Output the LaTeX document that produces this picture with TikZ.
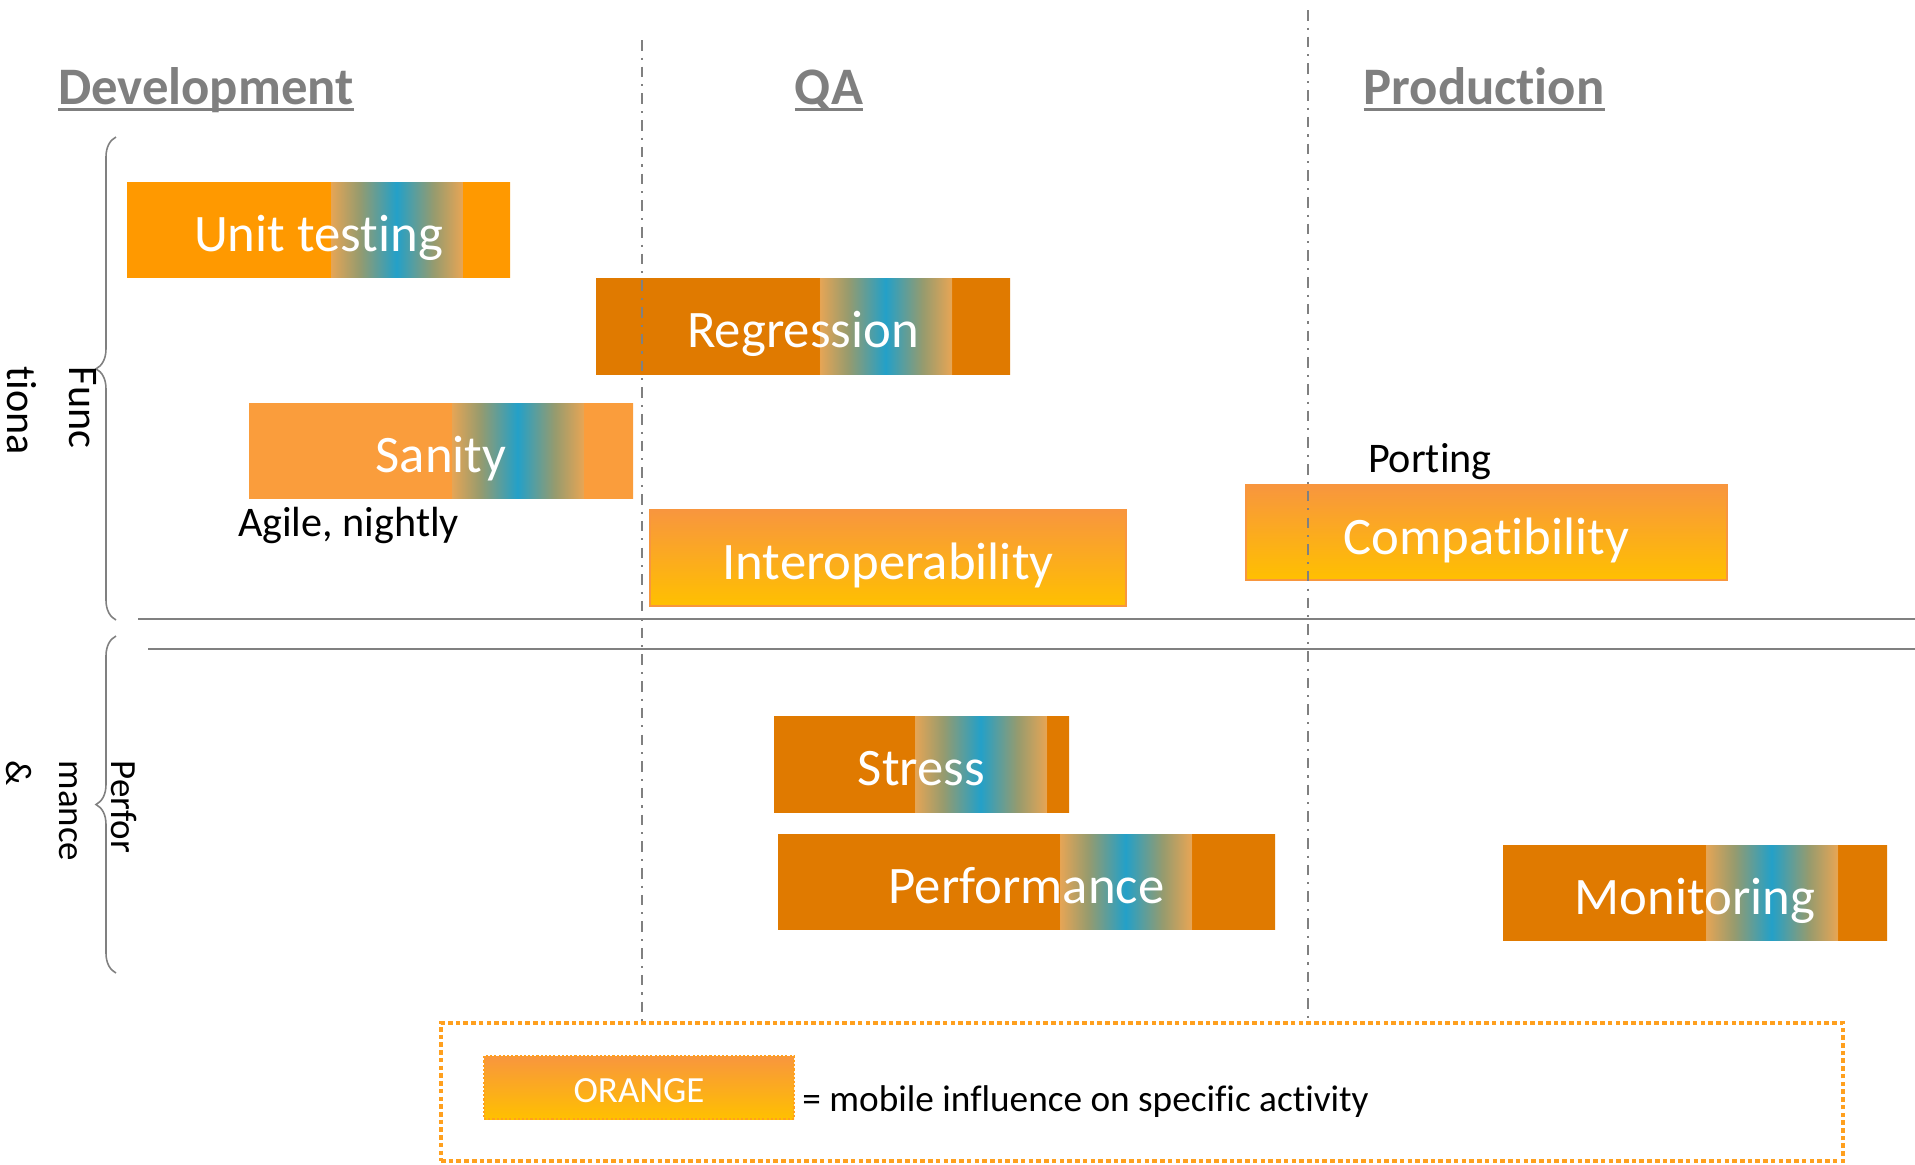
\documentclass[tikz,border=0pt]{standalone}
\usepackage{fontspec}
\setmainfont[Ligatures=NoCommon]{Carlito}
\usetikzlibrary{positioning,decorations.pathreplacing}

\definecolor{devorange}{RGB}{255,153,0}
\definecolor{darkorange}{RGB}{224,122,0}
\definecolor{lightorange}{RGB}{250,157,60}
\definecolor{mobtop}{RGB}{248,150,62}
\definecolor{mobbottom}{RGB}{255,192,0}
\definecolor{bandteal}{RGB}{35,160,200}
\definecolor{bandolive}{RGB}{150,155,110}
\definecolor{bandedge}{RGB}{230,165,85}
\definecolor{linegray}{RGB}{128,128,128}
\definecolor{headgray}{RGB}{127,127,127}
\definecolor{legendorange}{RGB}{255,160,30}

% underlined stage titles
\newcommand{\stagehead}[1]{\setbox0\hbox{#1}\rlap{\rule[-2pt]{\wd0}{0.9pt}}\box0}

% teal band across a box: name, box colour, band start, band end (bp)
\newcommand{\bandshading}[4]{%
  \pgfmathsetmacro\bandA{#3+0.1}%
  \pgfmathsetmacro\bandB{#3+(#4-#3)*0.22}%
  \pgfmathsetmacro\bandC{(#3+#4)/2}%
  \pgfmathsetmacro\bandD{#4-(#4-#3)*0.22}%
  \pgfmathsetmacro\bandE{#4-0.1}%
  \edef\bandtmp{\noexpand\pgfdeclarehorizontalshading{#1}{100bp}{%
    color(0bp)=(#2); color(#3bp)=(#2); color(\bandA bp)=(bandedge);
    color(\bandB bp)=(bandolive); color(\bandC bp)=(bandteal);
    color(\bandD bp)=(bandolive); color(\bandE bp)=(bandedge);
    color(#4bp)=(#2); color(100bp)=(#2)}}%
  \bandtmp}
\bandshading{unitband}{devorange}{51.5}{68.86}
\bandshading{regrband}{darkorange}{51.93}{68.0}
\bandshading{sanityband}{lightorange}{51.3}{68.62}
\bandshading{stressband}{darkorange}{48.73}{71.27}
\bandshading{perfband}{darkorange}{53.27}{66.65}
\bandshading{monitband}{darkorange}{51.3}{68.62}

\tikzset{%
  % Specifications for style of lines:
   stage/.style={
           linegray,
           line width=0.3pt,
           dash pattern=on 3pt off 2pt on 0.6pt off 2pt},
   split/.style={
           linegray,
           line width=0.45pt},
   group/.style={
           linegray,
           line width=0.45pt,
           decorate,
           decoration={brace, amplitude=2mm, aspect=#1}},
  % Specifications for style of nodes:
   base/.style = {rectangle, inner sep=0pt, minimum height=9.5mm,
                  text height=14.5pt, text depth=2pt,
                  text centered, text=white, font=\fontsize{15}{18}\selectfont},
   task/.style = {base, shade, shading=#1},
   mobiletask/.style = {base, draw=mobtop, line width=0.4pt,
                  top color=mobtop, bottom color=mobbottom},
   heading/.style = {font=\fontsize{15}{18}\selectfont\bfseries, text=headgray, anchor=base},
   note/.style = {font=\fontsize{12}{14}\selectfont, inner sep=0pt},
   side/.style = {rotate=-90, align=left, anchor=north west, inner sep=0pt},
   legendframe/.style = {rectangle, draw=legendorange, line width=1pt,
                  dash pattern=on 1.3pt off 0.9pt},
}

\begin{document}
\begin{tikzpicture}[x=0.1mm, y=-0.1mm, node distance=1mm]

  \useasboundingbox (0,0) rectangle (1915,1164);

  % Stage titles
  \node (dev_head)  [heading] at (206,104)  {\stagehead{Development}};
  \node (qa_head)   [heading] at (829,104)  {\stagehead{QA}};
  \node (prod_head) [heading] at (1484,104) {\stagehead{Production}};

  % Functional tasks
  \node (unit_block)   [task=unitband, minimum width=38.3mm] at (318.5,229.5) {Unit testing};
  \node (regr_block)   [task=regrband, minimum width=41.4mm, minimum height=9.6mm] at (803,326) {Regression};
  \node (sanity_block) [task=sanityband, minimum width=38.4mm] at (441,450.5) {Sanity};
  \node (interop_block) [mobiletask, minimum width=47.6mm, minimum height=9.6mm] at (888,558) {Interoperability};
  \node (compat_block)  [mobiletask, minimum width=48.1mm] at (1486.5,532.5) {Compatibility};

  \node (agile_label) [note, below right=0.8mm and -1.1mm of sanity_block.south west] {Agile, nightly};
  \node (port_label)  [note, above right=0.4mm and 12.2mm of compat_block.north west] {Porting};

  % Performance tasks
  \node (stress_block)  [task=stressband, minimum width=29.5mm, minimum height=9.6mm] at (921.5,764) {Stress};
  \node (perf_block)    [task=perfband, minimum width=49.7mm] at (1026.5,881.5) {Performance};
  \node (monit_block)   [task=monitband, minimum width=38.4mm] at (1695,892.5) {Monitoring};

  % Stage borders and split
  \coordinate (qa_top)    at (642,40);
  \coordinate (qa_bot)    at (642,1023);
  \coordinate (prod_top)  at (1308,10);
  \coordinate (prod_bot)  at (1308,1023);
  \coordinate (upper_l)   at (138,619);
  \coordinate (upper_r)   at (1915,619);
  \coordinate (lower_l)   at (148,649);
  \coordinate (lower_r)   at (1915,649);
	\draw[stage]	(qa_top) -- (qa_bot);
	\draw[stage]	(prod_top) -- (prod_bot);
	\draw[split]	(upper_l) -- (upper_r);
	\draw[split]	(lower_l) -- (lower_r);

  % Groups
  \coordinate (func_top) at (116,137);
  \coordinate (func_bot) at (116,620);
  \coordinate (perf_top) at (116,636);
  \coordinate (perf_bot) at (116,973);
	\draw[group=0.52]	(func_bot) -- (func_top);
	\draw[group=0.5]	(perf_bot) -- (perf_top);
  \node (func_label) [side, font=\fontsize{12}{17.6}\selectfont] at (97,366) {Func\\tiona};
  \node (perf_label) [side, font=\fontsize{10.5}{15}\selectfont] at (138,760) {Perfor\\mance\\\&};

  % Legend
  \node (legend_frame) [legendframe, minimum width=140.2mm, minimum height=13.8mm] at (1142,1092) {};
  \node (key_block) [mobiletask, draw=legendorange, dash pattern=on 0.6pt off 0.6pt,
                     minimum width=31mm, minimum height=6.3mm, text height=10pt, text depth=1.5pt,
                     font=\fontsize{10.5}{12}\selectfont] at (639,1087.5) {ORANGE};
  \node (key_label) [note, font=\fontsize{10.6}{12}\selectfont, right=0.7mm of key_block, yshift=-1.4mm]
        {= mobile influence on specific activity};

\end{tikzpicture}
\end{document}
